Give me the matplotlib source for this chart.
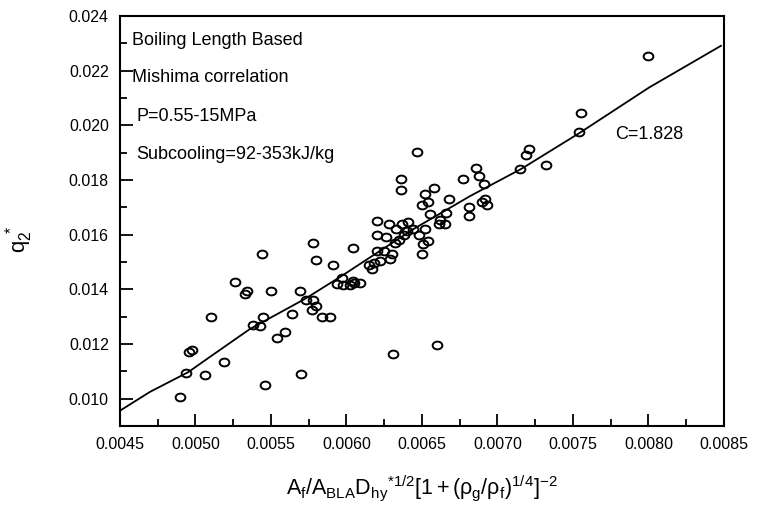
import matplotlib
matplotlib.use("Agg")
import matplotlib.pyplot as plt
from matplotlib.path import Path
from matplotlib.transforms import Affine2D
from matplotlib.ticker import MultipleLocator, FormatStrFormatter

plt.rcParams['font.family'] = ['Liberation Sans', 'DejaVu Sans']
plt.rcParams['mathtext.fontset'] = 'custom'
plt.rcParams['mathtext.rm'] = 'Liberation Sans'
plt.rcParams['mathtext.it'] = 'Liberation Sans:italic'

# Measured data points
x_vals = [0.00490, 0.00494, 0.00496, 0.00498, 0.00506, 0.00510, 0.00519, 0.00526,
          0.00533, 0.00534, 0.00538, 0.00543, 0.00544, 0.00545, 0.00546, 0.00550,
          0.00554, 0.00559, 0.00564, 0.00569, 0.00570, 0.00573, 0.00577, 0.00578,
          0.00578, 0.00580, 0.00580, 0.00584, 0.00589, 0.00591, 0.00594, 0.00597,
          0.00598, 0.00602, 0.00604, 0.00604, 0.00605, 0.00609, 0.00615, 0.00617,
          0.00618, 0.00620, 0.00620, 0.00620, 0.00622, 0.00625, 0.00626, 0.00628,
          0.00629, 0.00630, 0.00631, 0.00632, 0.00633, 0.00635, 0.00636, 0.00636,
          0.00637, 0.00638, 0.00640, 0.00641, 0.00644, 0.00647, 0.00648, 0.00650,
          0.00650, 0.00651, 0.00652, 0.00652, 0.00654, 0.00654, 0.00655, 0.00658,
          0.00660, 0.00661, 0.00662, 0.00665, 0.00666, 0.00668, 0.00677, 0.00681,
          0.00681, 0.00686, 0.00688, 0.00690, 0.00691, 0.00692, 0.00693, 0.00715,
          0.00719, 0.00721, 0.00732, 0.00754, 0.00755, 0.00800]
y_vals = [0.01005, 0.01095, 0.01170, 0.01178, 0.01085, 0.01300, 0.01135, 0.01428,
          0.01383, 0.01393, 0.01268, 0.01265, 0.01528, 0.01300, 0.01050, 0.01395,
          0.01222, 0.01245, 0.01308, 0.01393, 0.01090, 0.01362, 0.01325, 0.01360,
          0.01568, 0.01508, 0.01340, 0.01298, 0.01298, 0.01488, 0.01418, 0.01442,
          0.01415, 0.01415, 0.01552, 0.01430, 0.01422, 0.01422, 0.01490, 0.01475,
          0.01498, 0.01540, 0.01600, 0.01650, 0.01505, 0.01540, 0.01590, 0.01640,
          0.01510, 0.01530, 0.01165, 0.01570, 0.01620, 0.01580, 0.01765, 0.01805,
          0.01640, 0.01600, 0.01615, 0.01645, 0.01620, 0.01902, 0.01600, 0.01710,
          0.01530, 0.01565, 0.01750, 0.01620, 0.01720, 0.01575, 0.01675, 0.01770,
          0.01195, 0.01640, 0.01655, 0.01640, 0.01680, 0.01730, 0.01805, 0.01700,
          0.01670, 0.01845, 0.01815, 0.01720, 0.01785, 0.01730, 0.01710, 0.01840,
          0.01890, 0.01912, 0.01855, 0.01975, 0.02045, 0.02255]

# Correlation curve (C=1.828)
line_x = [0.00450, 0.004699, 0.004952, 0.005096, 0.005361, 0.005725, 0.005957,
          0.006442, 0.006818, 0.007162, 0.007546, 0.008003, 0.008480]
line_y = [0.00956, 0.01025, 0.01097, 0.01153, 0.01255, 0.01365, 0.01445,
          0.01620, 0.01741, 0.01842, 0.01973, 0.02138, 0.02291]

fig = plt.figure(figsize=(7.57, 5.14), dpi=100)
ax = fig.add_axes([0.1585, 0.1712, 0.7979, 0.7977])

ellipse = Path.unit_circle().transformed(Affine2D().scale(1.25, 1.0))
ax.plot(x_vals, y_vals, linestyle='none', marker=ellipse, markersize=7,
        markerfacecolor='none', markeredgecolor='black', markeredgewidth=1.4)
ax.plot(line_x, line_y, color='black', linewidth=1.3)

ax.set_xlim(0.0045, 0.0085)
ax.set_ylim(0.009, 0.024)
ax.xaxis.set_major_locator(MultipleLocator(0.0005))
ax.xaxis.set_minor_locator(MultipleLocator(0.00025))
ax.yaxis.set_major_locator(MultipleLocator(0.002))
ax.yaxis.set_minor_locator(MultipleLocator(0.001))
ax.xaxis.set_major_formatter(FormatStrFormatter('%.4f'))
ax.yaxis.set_major_formatter(FormatStrFormatter('%.3f'))
ax.tick_params(which='both', direction='in', top=False, right=False,
               width=1.3, labelsize=11.5, pad=8)
ax.tick_params(which='major', length=9)
ax.tick_params(which='minor', length=5)
for s in ax.spines.values():
    s.set_linewidth(1.5)

ax.set_xlabel(r'$\mathregular{A_f/A_{BLA}D_{hy}{}^{*1/2}[1+(\rho_g/\rho_f)^{1/4}]^{-2}}$',
              fontsize=15.5, labelpad=15)
ax.set_ylabel(r'$\mathregular{q_2^{\ *}}$', fontsize=16)
ax.yaxis.set_label_coords(-0.14, 0.455)

ax.text(0.02, 0.93, 'Boiling Length Based', transform=ax.transAxes, fontsize=13)
ax.text(0.02, 0.838, 'Mishima correlation', transform=ax.transAxes, fontsize=13)
ax.text(0.027, 0.743, 'P=0.55-15MPa', transform=ax.transAxes, fontsize=13)
ax.text(0.027, 0.65, 'Subcooling=92-353kJ/kg', transform=ax.transAxes, fontsize=13)
ax.text(0.82, 0.70, 'C=1.828', transform=ax.transAxes, fontsize=13)

fig.savefig('out.png', dpi=100)
